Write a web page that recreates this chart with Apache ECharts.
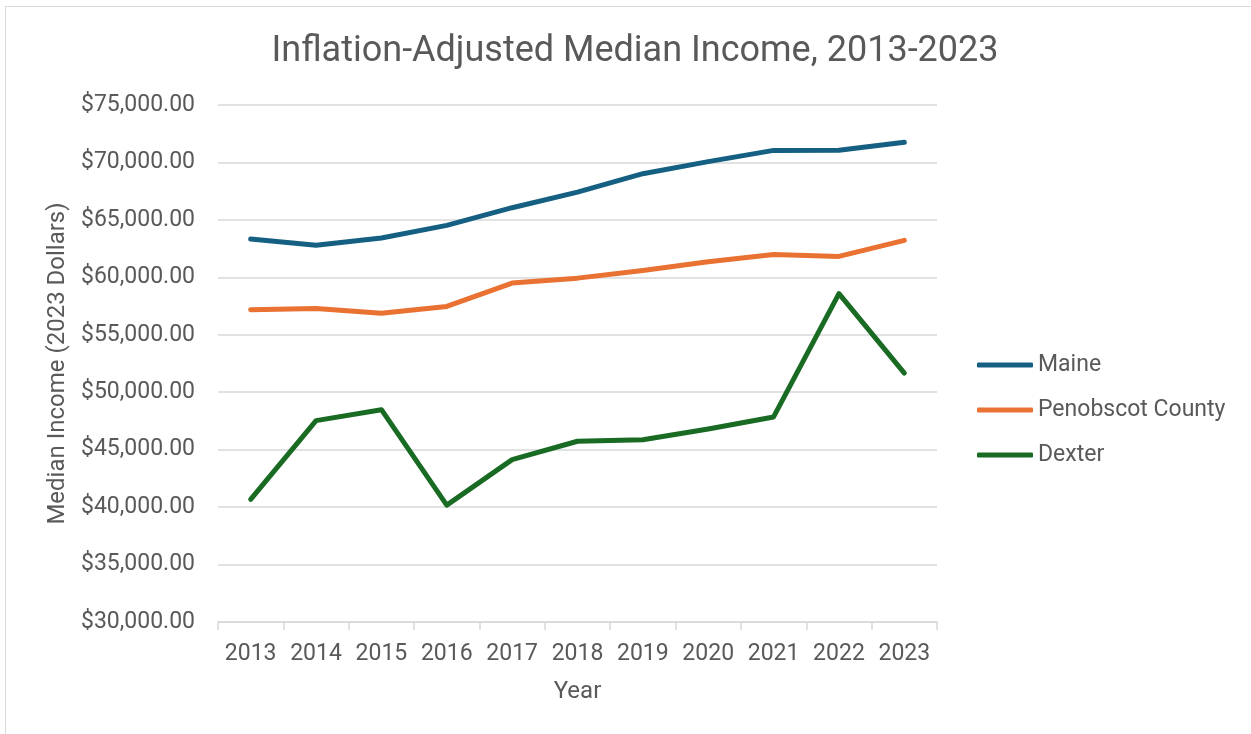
<!DOCTYPE html>
<html>
<head>
<meta charset="utf-8">
<script src="https://cdn.jsdelivr.net/npm/echarts@6/dist/echarts.min.js"></script>
<style>
  html, body { margin: 0; padding: 0; background: #ffffff; }
  #frame { position: absolute; left: 5px; top: 6px; width: 1260px; height: 740px; border: 1px solid #d9d9d9; box-sizing: border-box; }
  #chart { position: absolute; left: 0; top: 0; width: 1251px; height: 734px; }
</style>
</head>
<body>
<div id="frame"></div>
<div id="chart"></div>
<script>
// Inflation-adjusted median household income (2023 dollars)
const years = ['2013', '2014', '2015', '2016', '2017', '2018', '2019', '2020', '2021', '2022', '2023'];
const maine = [63330, 62800, 63420, 64520, 66060, 67420, 69020, 70070, 71050, 71060, 71750];
const penobscot = [57180, 57290, 56880, 57470, 59500, 59930, 60600, 61360, 61990, 61820, 63220];
const dexter = [40670, 47530, 48480, 40170, 44130, 45730, 45870, 46800, 47850, 58580, 51660];

const seriesNames = ['Maine', 'Penobscot County', 'Dexter'];
const seriesColors = ['#156082', '#E97132', '#196B24'];

const FONT = 'Roboto, "Open Sans", sans-serif';
const TEXT = '#595959';
const GRID = '#d9d9d9';

const chart = echarts.init(document.getElementById('chart'), null, { renderer: 'canvas' });

function lineSeries(name, data, color) {
  return {
    name: name,
    type: 'line',
    data: data,
    showSymbol: false,
    symbol: 'none',
    lineStyle: { width: 5, color: color, cap: 'round', join: 'round' },
    itemStyle: { color: color },
    emphasis: { disabled: true },
    animation: false
  };
}

chart.setOption({
  animation: false,
  backgroundColor: 'transparent',
  title: {
    text: 'Inflation-Adjusted Median Income, 2013-2023',
    left: 630,
    textAlign: 'center',
    top: 29,
    textStyle: { fontFamily: FONT, fontSize: 36, fontWeight: 'normal', color: TEXT }
  },
  legend: {
    orient: 'vertical',
    left: 977,
    top: 353,
    padding: 0,
    icon: 'roundRect',
    itemWidth: 56,
    itemHeight: 5,
    itemGap: 21,
    textStyle: { fontFamily: FONT, fontSize: 23, color: TEXT, lineHeight: 24 },
    data: seriesNames
  },
  grid: { left: 218, right: 314, top: 105, bottom: 112, containLabel: false },
  xAxis: {
    type: 'category',
    data: years,
    boundaryGap: true,
    name: 'Year',
    nameLocation: 'middle',
    nameGap: 58,
    nameTextStyle: { fontFamily: FONT, fontSize: 24, color: TEXT },
    axisLine: { show: true, lineStyle: { color: GRID, width: 1.5 } },
    axisTick: { show: true, length: 8, interval: 0, lineStyle: { color: GRID, width: 1.5 } },
    axisLabel: { fontFamily: FONT, fontSize: 23, color: TEXT, margin: 21, interval: 0, hideOverlap: false },
    splitLine: { show: false }
  },
  yAxis: {
    type: 'value',
    min: 30000,
    max: 75000,
    interval: 5000,
    name: 'Median Income (2023 Dollars)',
    nameLocation: 'middle',
    nameGap: 148,
    nameTextStyle: { fontFamily: FONT, fontSize: 24, color: TEXT },
    axisLine: { show: false },
    axisTick: { show: false },
    axisLabel: {
      fontFamily: FONT, fontSize: 23, color: TEXT, margin: 23,
      formatter: function (v) {
        return '$' + v.toLocaleString('en-US', { minimumFractionDigits: 2, maximumFractionDigits: 2 });
      }
    },
    splitLine: { show: true, lineStyle: { color: GRID, width: 1.5 } }
  },
  series: [
    lineSeries(seriesNames[0], maine, seriesColors[0]),
    lineSeries(seriesNames[1], penobscot, seriesColors[1]),
    lineSeries(seriesNames[2], dexter, seriesColors[2])
  ]
});
</script>
</body>
</html>
